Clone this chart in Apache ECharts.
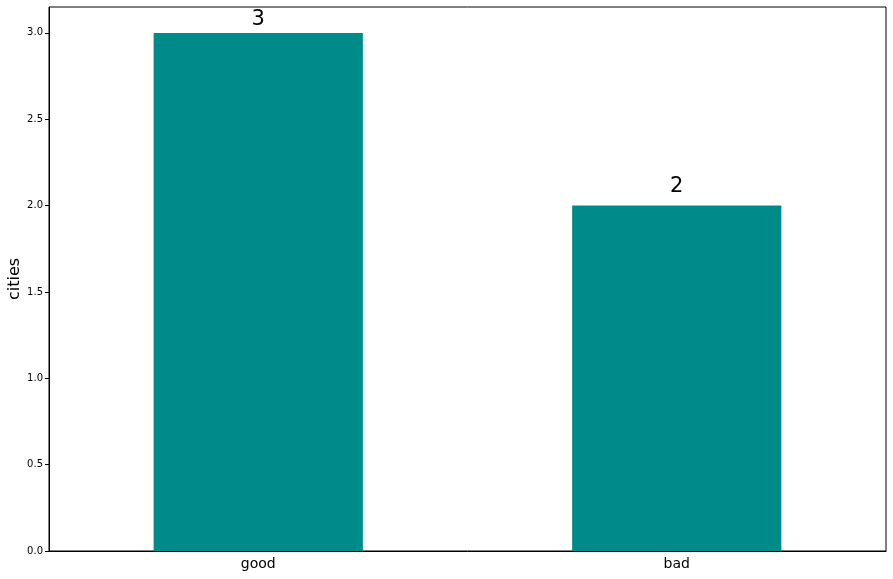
<!DOCTYPE html>
<html>
<head>
<meta charset="utf-8">
<script src="https://cdn.jsdelivr.net/npm/echarts@6/dist/echarts.min.js"></script>
<style>html,body{margin:0;padding:0;background:#fff}#c{width:893px;height:579px}</style>
</head>
<body>
<div id="c"></div>
<script>
const categories = ['good', 'bad'];
const cityCounts = [3, 2];
const yTicks = [0, 0.5, 1.0, 1.5, 2.0, 2.5, 3.0];

const labelGaps = [3, 9];
const chart = echarts.init(document.getElementById('c'));
chart.setOption({
  animation: false,
  textStyle: { fontFamily: 'DejaVu Sans' },
  grid: { left: 49, right: 7, top: 7, bottom: 28, containLabel: false, outerBoundsMode: 'none', show: true, borderColor: '#000', borderWidth: 1, backgroundColor: 'transparent' },
  xAxis: {
    type: 'category',
    data: categories,
    axisLine: { lineStyle: { color: '#000' } },
    axisTick: { alignWithLabel: true, length: 4, lineStyle: { color: '#000' } },
    axisLabel: { fontSize: 14, color: '#000', margin: 6, fontFamily: 'DejaVu Sans' }
  },
  yAxis: {
    type: 'value',
    min: 0,
    max: 3.15,
    interval: 0.5,
    name: 'cities',
    nameLocation: 'middle',
    nameGap: 26,
    nameMoveOverlap: false,
    nameTextStyle: { fontSize: 16, color: '#000', fontFamily: 'DejaVu Sans' },
    splitLine: { show: false },
    axisLine: { show: true, lineStyle: { color: '#000' } },
    axisTick: { show: true, length: 4, lineStyle: { color: '#000' }, customValues: yTicks },
    axisLabel: {
      fontSize: 10, color: '#000', margin: 6, fontFamily: 'DejaVu Sans',
      customValues: yTicks,
      formatter: v => v.toFixed(1)
    }
  },
  series: [{
    type: 'bar',
    data: cityCounts.map((v, i) => ({ value: v, label: { distance: labelGaps[i] } })),
    barWidth: '50%',
    itemStyle: { color: '#008B8B' },
    label: { show: true, position: 'top', fontSize: 21, color: '#000', fontFamily: 'DejaVu Sans' }
  }]
});
</script>
</body>
</html>
